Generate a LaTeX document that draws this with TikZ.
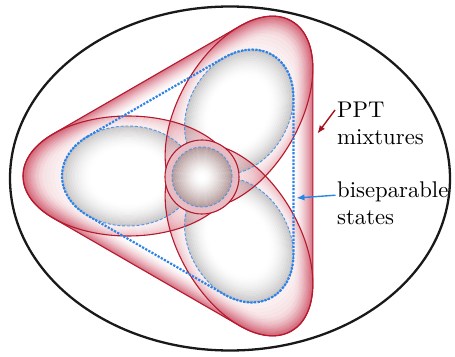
\documentclass[tikz,border=0pt]{standalone}
\usepackage{fontspec}
\newfontfamily\labelfont{lmroman10-regular}[Extension=.otf]
\usetikzlibrary{arrows.meta}
\definecolor{redline}{RGB}{180,25,45}
\definecolor{hullpink}{RGB}{200,60,85}
\definecolor{ringpink}{RGB}{205,70,90}
\definecolor{bluedot}{RGB}{45,130,230}
\definecolor{bluedash}{RGB}{75,150,230}
\definecolor{shadegray}{RGB}{95,88,88}
\definecolor{circbrown}{RGB}{115,65,65}
\definecolor{circbase}{RGB}{240,222,224}
\definecolor{arrowred}{RGB}{165,20,30}
\definecolor{arrowblue}{RGB}{40,135,230}

\newcommand\hullcalc[3]{%
  \pgfmathsetmacro\hA{#1}%
  \pgfmathsetmacro\hB{#2}%
  \pgfmathsetmacro\hT{atan2(\hB*sin(120),\hA*cos(120))}%
  \pgfmathsetmacro\hTe{360-\hT}%
  \pgfmathsetmacro\hPx{-(#3)+\hA*cos(\hT)}%
  \pgfmathsetmacro\hPy{\hB*sin(\hT)}%
  \pgfmathsetmacro\hR{veclen(\hPx,\hPy)}%
  \pgfmathsetmacro\hTh{atan2(\hPy,\hPx)}%
}
\newcommand\hullpath{(\hTh:\hR) arc[start angle=\hT, end angle=\hTe, x radius=\hA, y radius=\hB] -- (\hTh+120:\hR) {[rotate=120] arc[start angle=\hT, end angle=\hTe, x radius=\hA, y radius=\hB]} -- (\hTh+240:\hR) {[rotate=240] arc[start angle=\hT, end angle=\hTe, x radius=\hA, y radius=\hB]} -- cycle}

\begin{document}
\begin{tikzpicture}[x=1pt,y=1pt,
  redoutline/.style={draw=redline, line width=1.1pt},
  innerdash/.style={draw=bluedash, line width=0.9pt, dash pattern=on 3pt off 1.8pt},
  hulldots/.style={draw=bluedot, line width=2.2pt, dash pattern=on 2.2pt off 1.4pt},
  sidetext/.style={font=\labelfont\fontsize{22.7}{27.5}\selectfont, align=left, inner sep=0pt, anchor=north west},
  pointer/.style={line width=1.4pt, -{Latex[length=8pt,width=6.5pt]}}]
\useasboundingbox (-202,-180) rectangle (253,176);

% outer set
\draw[line width=2.3pt, black!90] (28,-2.5) ellipse [x radius=220, y radius=172];

% PPT mixtures hull with pink glow
\foreach \i in {0,...,20}{
  \pgfmathsetmacro\lyT{1.0*\i}
  \pgfmathsetmacro\lyP{72*(1-\i/20)^1.7}
  \hullcalc{105-\lyT}{60-\lyT}{74}
  \fill[hullpink!\lyP!white] \hullpath;
}

% gray interiors
\foreach \r in {0,120,240}{
  \begin{scope}[rotate=\r]
    \foreach \k in {0,...,11}{
      \pgfmathsetmacro\aO{66*(1-0.036*\k)}
      \pgfmathsetmacro\bO{50*(1-0.036*\k)}
      \pgfmathsetmacro\aI{66*(1-0.036*(\k+1))}
      \pgfmathsetmacro\bI{50*(1-0.036*(\k+1))}
      \pgfmathsetmacro\op{0.32*(1-\k/12)^1.8}
      \fill[shadegray, fill opacity=\op, even odd rule] (-74,0) ellipse[x radius=\aO, y radius=\bO] (-74,0) ellipse[x radius=\aI, y radius=\bI];
    }
  \end{scope}
}

% pink rings
\foreach \r in {0,120,240}{
  \begin{scope}[rotate=\r]
    \foreach \k in {0,...,9}{
      \pgfmathsetmacro\aO{105-3.9*\k}
      \pgfmathsetmacro\bO{60-\k}
      \pgfmathsetmacro\aI{105-3.9*(\k+1)}
      \pgfmathsetmacro\bI{60-(\k+1)}
      \pgfmathsetmacro\op{0.07+0.24*(1-\k/10)^1.5}
      \fill[ringpink, fill opacity=\op, even odd rule] (-74,0) ellipse[x radius=\aO, y radius=\bO] (-74,0) ellipse[x radius=\aI, y radius=\bI];
    }
  \end{scope}
}

% outlines
\hullcalc{105}{60}{74}
\draw[redoutline] \hullpath;
\foreach \r in {0,120,240}{
  \begin{scope}[rotate=\r]
    \draw[redoutline] (-74,0) ellipse[x radius=105, y radius=60];
    \draw[innerdash] (-74,0) ellipse[x radius=66, y radius=50];
  \end{scope}
}
\hullcalc{66}{50}{74}
\draw[hulldots] \hullpath;

% central circle
\fill[circbase] (0,-1) circle[radius=37];
\fill[ringpink, fill opacity=0.22, even odd rule] (0,-1) circle[radius=37] (0,-1) circle[radius=30];
\fill[white] (0,-1) circle[radius=30];
\foreach \k in {0,...,12}{
  \pgfmathsetmacro\rO{30-2*\k}
  \pgfmathsetmacro\rI{30-2*(\k+1)}
  \pgfmathsetmacro\op{0.5*(1-\k/13)^1.4}
  \fill[circbrown, fill opacity=\op, even odd rule] (0,-1) circle[radius=\rO] (0,-1) circle[radius=\rI];
}
\draw[redoutline] (0,-1) circle[radius=37];
\draw[innerdash] (0,-1) circle[radius=30];

% labels
\node[sidetext] (ppt) at (135,74.5) {PPT\\mixtures};
\node[sidetext] (bisep) at (135,-5.2) {biseparable\\states};
\coordinate (ppttip) at (115.5,42.5);
\coordinate (biseptip) at (94.5,-22);
\draw[pointer, arrowred] ([xshift=-2pt,yshift=-8.5pt]ppt.north west) -- (ppttip);
\draw[pointer, arrowblue] ([xshift=-1.5pt,yshift=-14pt]bisep.north west) -- (biseptip);
\end{tikzpicture}
\end{document}
